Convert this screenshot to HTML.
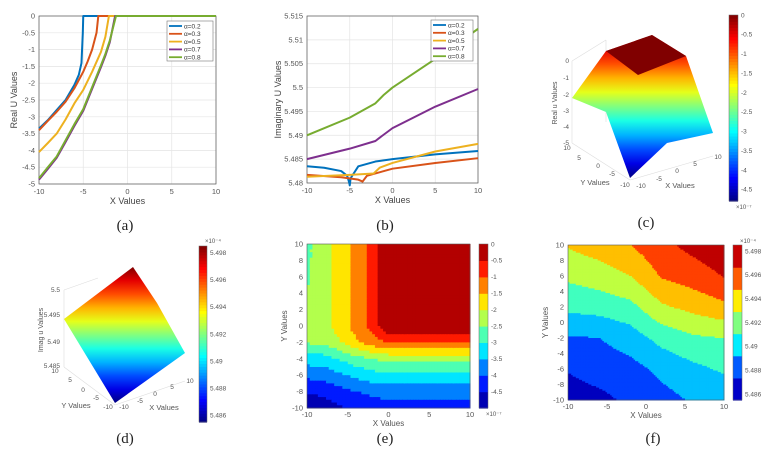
<!DOCTYPE html>
<html><head><meta charset="utf-8"><style>
html,body{margin:0;padding:0;background:#fff;}
svg{display:block;font-family:"Liberation Sans",sans-serif;}
.t{font-size:7.5px;fill:#555;}
.at{font-size:9px;fill:#444;}
.cap{font-family:"Liberation Serif",serif;font-size:15px;fill:#222;}
</style></head><body>
<svg id="fig" width="773" height="452" viewBox="0 0 773 452" xmlns="http://www.w3.org/2000/svg">
</svg>
<script>
// ---------- data (a) ----------
var aLabels = ["\u03b1=0.2","\u03b1=0.3","\u03b1=0.5","\u03b1=0.7","\u03b1=0.8"];
var aX02 = [-10,-9,-8,-7,-6,-5.5,-5.2,-5.05,-5,10];
var aY02 = [-3.35,-3.1,-2.8,-2.5,-2.05,-1.75,-1.4,-0.5,0,0];
var aX03 = [-10,-9,-8,-7,-6,-5,-4.5,-4,-3.5,-3.3,10];
var aY03 = [-3.4,-3.12,-2.85,-2.55,-2.15,-1.66,-1.35,-1.0,-0.5,0,0];
var aX05 = [-10,-9,-8,-7,-6,-5,-4,-3,-2.5,-2.1,10];
var aY05 = [-4.05,-3.78,-3.5,-3.08,-2.6,-2.2,-1.66,-1.07,-0.62,0,0];
var aX07 = [-10,-9,-8,-7,-6,-5,-4,-3,-2.5,-2,-1.4,10];
var aY07 = [-4.87,-4.55,-4.22,-3.75,-3.27,-2.82,-2.17,-1.52,-1.18,-0.78,0,0];
var aX08 = [-10,-9,-8,-7,-6,-5,-4,-3,-2.5,-2,-1.3,10];
var aY08 = [-4.83,-4.5,-4.18,-3.7,-3.22,-2.77,-2.12,-1.47,-1.13,-0.73,0,0];
var aXTicks = [-10,-5,0,5,10];
var aYTicks = [0,-0.5,-1,-1.5,-2,-2.5,-3,-3.5,-4,-4.5,-5];
// ---------- data (b) ----------
var bX02 = [-10,-8,-6,-5.3,-5.05,-5,-4.9,-4,-2,0,5,10];
var bY02 = [5.4835,5.4832,5.4825,5.4815,5.480,5.4795,5.481,5.4835,5.4845,5.485,5.486,5.4867];
var bX03 = [-10,-6,-4,-3.5,-3,-2,0,5,10];
var bY03 = [5.4817,5.4812,5.4807,5.4803,5.4815,5.482,5.483,5.4842,5.4852];
var bX05 = [-10,-5,-2.2,-1.5,0,5,10];
var bY05 = [5.4813,5.4817,5.482,5.4832,5.4842,5.4866,5.4882];
var bX07 = [-10,-5,-2,-1.5,0,5,10];
var bY07 = [5.485,5.4872,5.4888,5.4895,5.4915,5.496,5.4997];
var bX08 = [-10,-5,-2,-1,0,5,10];
var bY08 = [5.490,5.4937,5.4967,5.4985,5.500,5.506,5.5123];
var bYTicks = [5.48,5.485,5.49,5.495,5.5,5.505,5.51,5.515];
var bYTickLabels = ["5.48","5.485","5.49","5.495","5.5","5.505","5.51","5.515"];
// ---------- data (e) contour ----------
var eGridX = [-10,-8,-6,-4,-2,0,2,4,6,8,10];
var eGridY = [10,8,6,4,2,0,-2,-4,-6,-8,-10];
var eVals = [
 [-2.6,-2.2,-1.8,-1.3,-0.8,0,0,0,0,0,0],
 [-2.6,-2.2,-1.8,-1.3,-0.8,0,0,0,0,0,0],
 [-2.55,-2.2,-1.8,-1.3,-0.8,0,0,0,0,0,0],
 [-2.5,-2.2,-1.8,-1.3,-0.8,0,0,0,0,0,0],
 [-2.35,-2.2,-1.8,-1.3,-0.8,0,0,0,0,0,0],
 [-2.25,-2.2,-1.8,-1.3,-0.8,0,0,0,0,0,0],
 [-2.44,-2.4,-2.03,-1.61,-1.24,-0.95,-0.95,-0.95,-0.95,-0.95,-0.95],
 [-3.25,-3.22,-2.97,-2.69,-2.48,-2.35,-2.35,-2.35,-2.35,-2.35,-2.35],
 [-3.86,-3.8,-3.58,-3.36,-3.2,-3.1,-3.1,-3.1,-3.1,-3.1,-3.1],
 [-4.45,-4.4,-4.2,-4.0,-3.88,-3.8,-3.8,-3.8,-3.8,-3.8,-3.8],
 [-4.8,-4.75,-4.57,-4.39,-4.27,-4.2,-4.2,-4.2,-4.2,-4.2,-4.2]
];
var eLevels = [-5,-4.5,-4,-3.5,-3,-2.5,-2,-1.5,-1,-0.5,0];
var eCbTicks = [0,-0.5,-1,-1.5,-2,-2.5,-3,-3.5,-4,-4.5];
// ---------- data (f) contour ----------
var fGridX = [-10,-6,-2,2,6,10];
var fGridY = [10,6,2,-2,-6,-10];
var fVals = [
 [5.4942,5.4950,5.4960,5.4975,5.4986,5.4995],
 [5.4924,5.4930,5.4940,5.4962,5.4970,5.4981],
 [5.4905,5.4908,5.4914,5.4937,5.4946,5.4955],
 [5.4878,5.4880,5.4890,5.4907,5.4917,5.4920],
 [5.4861,5.4868,5.4873,5.4885,5.4895,5.4903],
 [5.4852,5.4855,5.4864,5.4873,5.4882,5.4886]
];
var fLevels = [5.484,5.486,5.488,5.490,5.492,5.494,5.496,5.498,5.500];
var fCbTicks = [5.498,5.496,5.494,5.492,5.49,5.488,5.486];
var fCbLabels = ["5.498","5.496","5.494","5.492","5.49","5.488","5.486"];

var NS="http://www.w3.org/2000/svg";
var svg=document.getElementById('fig');
var colors=["#0072BD","#D95319","#EDB120","#7E2F8E","#77AC30"];
function mk(tag,parent){var e=document.createElementNS(NS,tag);(parent||svg).appendChild(e);return e;}
function sa(e,o){for(var k in o)e.setAttribute(k,o[k]);return e;}
function jet(t){t=Math.max(0,Math.min(1,t));
 function c(v){return Math.round(255*Math.max(0,Math.min(1,v)));}
 var r=1.5-Math.abs(4*t-3),g=1.5-Math.abs(4*t-2),b=1.5-Math.abs(4*t-1);
 return "rgb("+c(r)+","+c(g)+","+c(b)+")";}
function txt(parent,x,y,s,cls,anchor){var t=mk('text',parent);sa(t,{x:x,y:y,'class':cls,'text-anchor':anchor||'middle'});t.textContent=s;return t;}

function lineChart(name,box,xd,yd,xt,yt,ytl,xs,ys,legBox,xTitle,yTitle,yTitleX){
 var g=mk('g');
 function sx(v){return box.l+(v-xd[0])/(xd[1]-xd[0])*(box.r-box.l);}
 function sy(v){return box.b-(v-yd[0])/(yd[1]-yd[0])*(box.b-box.t);}
 var grid=mk('g',g);
 xt.forEach(function(v){var l=mk('line',grid);sa(l,{x1:sx(v),x2:sx(v),y1:box.t,y2:box.b,stroke:'#e4e4e4','stroke-width':0.7});});
 yt.forEach(function(v){var l=mk('line',grid);sa(l,{x1:box.l,x2:box.r,y1:sy(v),y2:sy(v),stroke:'#e4e4e4','stroke-width':0.7});});
 var fr=mk('rect',g);sa(fr,{x:box.l,y:box.t,width:box.r-box.l,height:box.b-box.t,fill:'none',stroke:'#555','stroke-width':0.7});
 
 var xa=mk('g',g);
 xt.forEach(function(v){txt(xa,sx(v),box.b+10,String(v),'t');});
 var ya=mk('g',g);
 yt.forEach(function(v,i){txt(ya,box.l-4,sy(v)+2.5,ytl[i],'t','end');});
 var xtt=txt(g,(box.l+box.r)/2,box.b+20,xTitle,'at');
 
 var ytt=txt(g,0,0,yTitle,'at');sa(ytt,{transform:'translate('+yTitleX+','+((box.t+box.b)/2)+') rotate(-90)'});
 
 for(var s=0;s<xs.length;s++){
  var d='';for(var i=0;i<xs[s].length;i++){d+=(i?'L':'M')+sx(xs[s][i]).toFixed(2)+','+sy(ys[s][i]).toFixed(2);}
  var p=mk('path',g);sa(p,{d:d,fill:'none',stroke:colors[s],'stroke-width':2,'stroke-linejoin':'round'});
  
 }
 var lg=mk('g',g);
 var lr=mk('rect',lg);sa(lr,{x:legBox.x,y:legBox.y,width:legBox.w,height:legBox.h,fill:'#fff',stroke:'#777','stroke-width':0.6});
 for(var k=0;k<aLabels.length;k++){
  var yy=legBox.y+5+k*7.8;
  var e=mk('g',lg);
  var ll=mk('line',e);sa(ll,{x1:legBox.x+2,x2:legBox.x+15,y1:yy,y2:yy,stroke:colors[k],'stroke-width':1.8});
  var tt=txt(e,legBox.x+17,yy+2.3,aLabels[k],'t','start');tt.style.fontSize='6.5px';tt.style.fill='#333';
 }
}
lineChart('chart-a',{l:39,r:216,t:16,b:184},[-10,10],[-5,0],aXTicks,aYTicks,aYTicks.map(String),
 [aX02,aX03,aX05,aX07,aX08],[aY02,aY03,aY05,aY07,aY08],{x:167,y:21,w:46,h:40},'X Values','Real U Values',17);
lineChart('chart-b',{l:307,r:478,t:16,b:183},[-10,10],[5.48,5.515],aXTicks,bYTicks,bYTickLabels,
 [bX02,bX03,bX05,bX07,bX08],[bY02,bY03,bY05,bY07,bY08],{x:431,y:20,w:42,h:41},'X Values','Imaginary U Values',281);

function colorbar(name,x,y,w,h,vmin,vmax,ticks,labels,banded,nb,exp,expY){
 var g=mk('g');
 var n=banded?nb:60;
 for(var i=0;i<n;i++){var r=mk('rect',g);var f=(i+0.5)/n;
  sa(r,{x:x,y:y+h-(i+1)*h/n,width:w,height:h/n+0.6,fill:jet(f)});}
 sa(mk('rect',g),{x:x,y:y,width:w,height:h,fill:'none',stroke:'#666','stroke-width':0.5});
 ticks.forEach(function(v,i){var yy=y+h-(v-vmin)/(vmax-vmin)*h;
  var t=txt(g,x+w+3,yy+2.3,labels[i],'t','start');t.style.fontSize='6.5px';});
 if(exp){var t=txt(g,x+w-2,expY,exp,'t','start');t.style.fontSize='6px';}
}

function contour(name,box,gx,gy,vals,levels,sub){
 var g=mk('g');
 var nx=gx.length-1,ny=gy.length-1;
 function sx(v){return box.l+(v-gx[0])/(gx[nx]-gx[0])*(box.r-box.l);}
 function sy(v){return box.t+(v-gy[0])/(gy[ny]-gy[0])*(box.b-box.t);}
 var L=levels.length-1;
 for(var j=0;j<ny;j++)for(var i=0;i<nx;i++){
  var x0=sx(gx[i]),x1=sx(gx[i+1]),y0=sy(gy[j]),y1=sy(gy[j+1]);
  for(var b=0;b<sub;b++)for(var a=0;a<sub;a++){
   var u=(a+0.5)/sub,v=(b+0.5)/sub;
   var val=vals[j][i]*(1-u)*(1-v)+vals[j][i+1]*u*(1-v)+vals[j+1][i]*(1-u)*v+vals[j+1][i+1]*u*v;
   var k=0;while(k<L-1&&val>=levels[k+1])k++;
   var r=mk('rect',g);var cw=(x1-x0)/sub,ch=(y1-y0)/sub;
   sa(r,{x:(x0+a*cw).toFixed(2),y:(y0+b*ch).toFixed(2),width:(cw+0.5).toFixed(2),height:(ch+0.5).toFixed(2),fill:jet((k+0.5)/L)});
   
   
  }
 }
 sa(mk('rect',g),{x:box.l,y:box.t,width:box.r-box.l,height:box.b-box.t,fill:'none',stroke:'#555','stroke-width':0.6});
 [-10,-5,0,5,10].forEach(function(v){txt(g,sx(v),box.b+9,String(v),'t');});
 [10,8,6,4,2,0,-2,-4,-6,-8,-10].forEach(function(v){txt(g,box.l-4,sy(v)+2.5,String(v),'t','end');});
 var xt=txt(g,(box.l+box.r)/2,box.b+18,'X Values','t');xt.style.fontSize='8px';
 var yt=txt(g,0,0,'Y Values','t');sa(yt,{transform:'translate('+(box.l-20)+','+((box.t+box.b)/2)+') rotate(-90)'});yt.style.fontSize='8px';
}
contour('contour-e',{l:307,r:470,t:244,b:408},eGridX,eGridY,eVals,eLevels,6);
colorbar('colorbar-e',479,244,9,164,-5,0,eCbTicks,eCbTicks.map(String),true,10,'\u00d710\u207b\u2077',416);
contour('contour-f',{l:568,r:724,t:245,b:400},fGridX,fGridY,fVals,fLevels,20);
colorbar('colorbar-f',733,245,9,155,5.4855,5.4985,fCbTicks,fCbLabels,true,7,'\u00d710\u207b\u2074',243);

// ---------- 3D surfaces (c),(d) ----------
function surf(name,outline,roof,gy0,gy1,axes,ztick,zlab,ylab,xlab,ztitle){
 var g=mk('g');
 axes.forEach(function(l){sa(mk('line',g),{x1:l[0],y1:l[1],x2:l[2],y2:l[3],stroke:'#ddd','stroke-width':0.6});});
 var gid='grad-'+name;var lg=mk('linearGradient',g);sa(lg,{id:gid,x1:0,y1:gy0,x2:0,y2:gy1,gradientUnits:'userSpaceOnUse'});
 for(var i=0;i<=10;i++){var s=mk('stop',lg);sa(s,{offset:i/10,'stop-color':jet(1-i/10)});}
 var p=mk('polygon',g);sa(p,{points:outline,fill:'url(#'+gid+')'});
 
 if(roof){var r=mk('polygon',g);sa(r,{points:roof,fill:'#800000'});}
 ztick.forEach(function(z){txt(g,z[0],z[1],z[2],'t','end').style.fontSize='6.5px';});
 zlab.forEach(function(z){txt(g,z[0],z[1],z[2],'t').style.fontSize='6.5px';});
 var a=txt(g,ylab[0],ylab[1],'Y Values','t');a.style.fontSize='7.5px';
 var b=txt(g,xlab[0],xlab[1],'X Values','t');b.style.fontSize='7.5px';
 var c=txt(g,0,0,ztitle[2],'t');sa(c,{transform:'translate('+ztitle[0]+','+ztitle[1]+') rotate(-90)'});c.style.fontSize='7px';
}
surf('surface-c',"572,98 606,51 652,35 686,56 713,133 667,143 630,178 606,112",
 "606,51 652,35 686,56 638,75",35,178,
 [[572,61,572,143],[572,143,630,180],[630,180,713,156],[572,61,606,40],[606,40,606,122]],
 [[569,63,'0'],[569,80,'-1'],[569,97,'-2'],[569,113,'-3'],[569,129,'-4'],[569,145,'-5']],
 [[567,150,'10'],[579,160,'5'],[598,168,'0'],[612,176,'-5'],[625,187,'-10'],[641,188,'-10'],[659,181,'-5'],[677,173,'0'],[695,166,'5'],[718,159,'10']],
 [595,185],[680,188],[557,103,'Real u Values']);
colorbar('colorbar-c',729,15,9,186,-4.8,0,eCbTicks,eCbTicks.map(String),false,0,'\u00d710\u207b\u2077',209);
surf('surface-d',"64,319 133,267 157,303 185,353 115,403",null,267,403,
 [[64,290,64,367],[64,367,115,405],[115,405,185,381],[64,290,98,278]],
 [[60,292,'5.5'],[60,317,'5.495'],[60,344,'5.49'],[60,368,'5.485']],
 [[55,373,'10'],[70,382,'5'],[83,392,'0'],[96,400,'-5'],[108,409,'-10'],[124,409,'-10'],[140,403,'-5'],[155,396,'0'],[172,389,'5'],[190,383,'10']],
 [76,408],[164,410],[43,330,'Imag u Values']);
colorbar('colorbar-d',199,246,8,176,5.4855,5.4985,fCbTicks,fCbLabels,false,0,'\u00d710\u207b\u2074',243);

// ---------- captions ----------
[['(a)',125,230],['(b)',385,230],['(c)',646,227],['(d)',125,443],['(e)',385,443],['(f)',653,443]].forEach(function(c){
 var t=txt(svg,c[1],c[2],c[0],'cap');
 
 
});
</script>
</body></html>
